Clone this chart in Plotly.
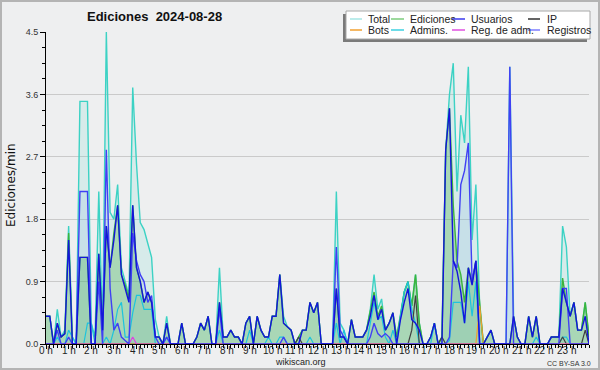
import plotly.graph_objects as go

# ---------------- data (10-minute resolution, hours 0..24) ----------------
slot_hours = [i / 6 for i in range(145)]

total = [
    0.4, 0.4, 0.0, 0.5, 0.1, 0.2,
    1.7, 0.1, 0.0, 3.5, 3.5, 3.5,
    0.3, 0.1, 2.2, 0.2, 4.5, 1.9,
    1.8, 2.3, 1.1, 0.9, 0.7, 3.7,
    2.6, 1.75, 1.65, 1.45, 1.25, 0.35,
    0.1, 0.0, 0.4, 0.0, 0.0, 0.0,
    0.3, 0.0, 0.0, 0.0, 0.1, 0.3,
    0.2, 0.4, 0.0, 0.0, 1.1, 0.1,
    0.1, 0.2, 0.1, 0.1, 0.0, 0.3,
    0.4, 0.0, 0.4, 0.2, 0.1, 0.1,
    0.4, 0.4, 1.0, 0.4, 0.25, 0.2,
    0.0, 0.1, 0.2, 0.2, 0.6, 0.45,
    0.6, 0.0, 0.0, 0.0, 0.0, 2.2,
    0.3, 0.2, 0.0, 0.35, 0.1, 0.1,
    0.1, 0.2, 0.5, 1.0, 0.5, 0.65,
    0.2, 0.3, 0.45, 0.1, 0.4, 0.75,
    0.9, 0.55, 1.0, 0.3, 0.0, 0.0,
    0.1, 0.3, 0.0, 0.1, 2.8, 3.6,
    4.05, 2.2, 3.3, 2.9, 4.0, 1.5,
    2.3, 0.55, 0.0, 0.1, 0.2, 0.0,
    0.0, 0.0, 0.0, 4.0, 0.4, 0.1,
    0.0, 0.0, 0.4, 0.1, 0.4, 0.0,
    0.0, 0.0, 0.1, 0.1, 0.1, 1.7,
    1.4, 0.4, 0.6, 0.2, 0.2, 0.6,
    0.1,
]

ediciones = [
    0.4, 0.4, 0.0, 0.3, 0.1, 0.15,
    1.6, 0.0, 0.0, 1.25, 1.25, 1.25,
    0.0, 0.0, 1.3, 0.2, 1.7, 1.1,
    1.6, 2.0, 1.0, 0.85, 0.65, 2.0,
    1.1, 0.9, 0.6, 0.75, 0.6, 0.1,
    0.1, 0.0, 0.3, 0.0, 0.0, 0.0,
    0.3, 0.0, 0.0, 0.0, 0.1, 0.3,
    0.2, 0.4, 0.0, 0.0, 0.6, 0.1,
    0.1, 0.2, 0.1, 0.1, 0.0, 0.3,
    0.4, 0.0, 0.4, 0.2, 0.1, 0.1,
    0.4, 0.4, 1.0, 0.3, 0.25, 0.2,
    0.0, 0.1, 0.2, 0.2, 0.6, 0.45,
    0.6, 0.0, 0.0, 0.0, 0.0, 0.8,
    0.1, 0.1, 0.0, 0.35, 0.1, 0.1,
    0.1, 0.2, 0.45, 0.75, 0.4, 0.55,
    0.2, 0.3, 0.45, 0.1, 0.4, 0.75,
    0.9, 0.55, 1.0, 0.3, 0.0, 0.0,
    0.1, 0.3, 0.0, 0.1, 2.8, 3.4,
    2.0, 1.2, 1.0, 0.6, 1.1, 0.9,
    1.2, 0.55, 0.0, 0.1, 0.2, 0.0,
    0.0, 0.0, 0.0, 0.0, 0.4, 0.1,
    0.0, 0.0, 0.4, 0.1, 0.4, 0.0,
    0.0, 0.0, 0.1, 0.1, 0.1, 0.95,
    0.6, 0.4, 0.6, 0.2, 0.2, 0.6,
    0.1,
]

usuarios = [
    0.4, 0.4, 0.0, 0.3, 0.1, 0.15,
    1.5, 0.0, 0.0, 1.25, 1.25, 1.25,
    0.0, 0.0, 1.3, 0.2, 1.7, 1.1,
    1.5, 2.0, 1.0, 0.8, 0.6, 2.0,
    1.1, 0.9, 0.6, 0.75, 0.6, 0.1,
    0.1, 0.0, 0.3, 0.0, 0.0, 0.0,
    0.3, 0.0, 0.0, 0.0, 0.1, 0.3,
    0.2, 0.4, 0.0, 0.0, 0.6, 0.1,
    0.1, 0.2, 0.1, 0.1, 0.0, 0.3,
    0.4, 0.0, 0.4, 0.2, 0.1, 0.1,
    0.4, 0.4, 1.0, 0.3, 0.25, 0.2,
    0.0, 0.0, 0.2, 0.2, 0.6, 0.45,
    0.6, 0.0, 0.0, 0.0, 0.0, 0.8,
    0.1, 0.1, 0.0, 0.35, 0.1, 0.1,
    0.1, 0.2, 0.4, 0.7, 0.35, 0.5,
    0.2, 0.3, 0.45, 0.0, 0.35, 0.6,
    0.8, 0.35, 0.3, 0.2, 0.0, 0.0,
    0.1, 0.3, 0.0, 0.0, 2.8, 3.4,
    1.2, 1.05, 0.75, 0.3, 1.1, 0.85,
    1.2, 0.0, 0.0, 0.1, 0.2, 0.0,
    0.0, 0.0, 0.0, 0.0, 0.4, 0.1,
    0.0, 0.0, 0.4, 0.1, 0.4, 0.0,
    0.0, 0.0, 0.1, 0.1, 0.1, 0.8,
    0.6, 0.4, 0.6, 0.2, 0.2, 0.4,
    0.0,
]

ip = [0.0] * 145
ip_points = {67: 0.1, 97: 0.2, 98: 0.7, 105: 0.1, 137: 0.1, 143: 0.2}

bots = [0.0] * 145
bots_points = {115: 0.55}

reg_adm = [0.0] * 145
reg_adm_points = {23: 0.1}

admins = [
    0.0, 0.0, 0.0, 0.1, 0.0, 0.0,
    0.2, 0.1, 0.0, 0.0, 0.0, 0.3,
    0.3, 0.0, 0.0, 0.0, 0.1, 0.0,
    0.2, 0.5, 0.6, 0.1, 0.1, 0.45,
    0.7, 0.7, 0.5, 0.5, 0.5, 0.0,
    0.0, 0.0, 0.1, 0.0, 0.0, 0.0,
    0.0, 0.0, 0.0, 0.0, 0.0, 0.0,
    0.0, 0.0, 0.0, 0.0, 0.2, 0.0,
    0.0, 0.0, 0.0, 0.0, 0.0, 0.0,
    0.2, 0.0, 0.0, 0.0, 0.0, 0.1,
    0.0, 0.0, 0.1, 0.1, 0.0, 0.0,
    0.0, 0.0, 0.0, 0.0, 0.1, 0.0,
    0.0, 0.0, 0.0, 0.0, 0.0, 0.3,
    0.0, 0.2, 0.0, 0.0, 0.0, 0.0,
    0.0, 0.0, 0.3, 0.6, 0.35, 0.4,
    0.1, 0.0, 0.2, 0.0, 0.4, 0.75,
    0.9, 0.5, 0.3, 0.0, 0.0, 0.0,
    0.0, 0.3, 0.0, 0.0, 0.0, 0.05,
    0.6, 0.6, 0.6, 0.3, 0.9, 0.4,
    0.9, 0.0, 0.0, 0.0, 0.0, 0.0,
    0.0, 0.0, 0.0, 0.0, 0.0, 0.0,
    0.0, 0.0, 0.0, 0.0, 0.1, 0.0,
    0.0, 0.0, 0.0, 0.0, 0.0, 0.1,
    0.1, 0.0, 0.0, 0.0, 0.0, 0.0,
    0.0,
]

registros = [
    0.0, 0.0, 0.0, 0.2, 0.0, 0.0,
    0.1, 0.0, 0.0, 2.2, 2.2, 2.2,
    0.0, 0.0, 0.9, 0.0, 2.8, 0.8,
    0.2, 0.3, 0.1, 0.05, 0.0, 1.6,
    1.2, 1.0, 0.9, 0.6, 0.7, 0.1,
    0.0, 0.0, 0.1, 0.0, 0.0, 0.0,
    0.0, 0.0, 0.0, 0.0, 0.0, 0.0,
    0.0, 0.0, 0.0, 0.0, 0.5, 0.0,
    0.0, 0.0, 0.0, 0.0, 0.0, 0.0,
    0.0, 0.0, 0.0, 0.0, 0.0, 0.0,
    0.0, 0.0, 0.0, 0.1, 0.0, 0.0,
    0.0, 0.0, 0.0, 0.0, 0.0, 0.0,
    0.0, 0.0, 0.0, 0.0, 0.0, 1.4,
    0.2, 0.1, 0.0, 0.0, 0.0, 0.0,
    0.0, 0.0, 0.1, 0.3, 0.15, 0.1,
    0.15, 0.1, 0.0, 0.0, 0.0, 0.0,
    0.0, 0.0, 0.0, 0.0, 0.0, 0.0,
    0.0, 0.0, 0.0, 0.0, 0.0, 0.1,
    1.2, 1.1, 2.3, 2.5, 2.9, 0.9,
    1.2, 0.0, 0.0, 0.0, 0.0, 0.0,
    0.0, 0.0, 0.0, 4.0, 0.0, 0.0,
    0.0, 0.0, 0.0, 0.0, 0.0, 0.0,
    0.0, 0.0, 0.0, 0.0, 0.0, 0.8,
    0.8, 0.0, 0.0, 0.0, 0.0, 0.0,
    0.0,
]

for k, v in ip_points.items():
    ip[k] = v
for k, v in bots_points.items():
    bots[k] = v
for k, v in reg_adm_points.items():
    reg_adm[k] = v

hour_ticks = list(range(24))
hour_labels = ["0 h", "1 h", "2 h", "3 h", "4 h", "5 h", "6 h", "7 h", "8 h", "9 h",
               "10 h", "11 h", "12 h", "13 h", "14 h", "15 h", "16 h", "17 h",
               "18 h", "19 h", "20 h", "21 h", "22 h", "23 h"]
y_ticks = [0.0, 0.9, 1.8, 2.7, 3.6, 4.5]
y_labels = ["0.0", "0.9", "1.8", "2.7", "3.6", "4.5"]

legend_names = ["Total", "Ediciones", "Usuarios", "IP",
                "Bots", "Admins.", "Reg. de adm.", "Registros"]
legend_colors = ["#a6e6e4", "#7ccc7c", "#3a3aee", "#303030",
                 "#f2a030", "#3cd0e0", "#e050e0", "#7c7cff"]

# ---------------- figure ----------------
W, H = 600, 370
ML, MR, MT, MB = 46, 11, 32, 26
PW, PH = W - ML - MR, H - MT - MB


def X(px):
    return (px - ML) / PW


def Y(py):
    return (H - MB - py) / PH


FONT = "Liberation Sans, Arial, sans-serif"
BG = "#eeeff0"

fig = go.Figure()

fig.add_trace(go.Scatter(x=slot_hours, y=total, mode="lines", fill="tozeroy",
                         fillcolor="rgba(80,210,195,0.14)",
                         line=dict(color="#3cd2c4", width=1.4), hoverinfo="skip"))
fig.add_trace(go.Scatter(x=slot_hours, y=registros, mode="none", fill="tozeroy",
                         fillcolor="rgba(120,165,225,0.16)", hoverinfo="skip"))
fig.add_trace(go.Scatter(x=slot_hours, y=ediciones, mode="lines", fill="tozeroy",
                         fillcolor="rgba(70,175,70,0.32)",
                         line=dict(color="#3cb43c", width=1.4), hoverinfo="skip"))
fig.add_trace(go.Scatter(x=slot_hours, y=admins, mode="lines",
                         line=dict(color="#1ec4dc", width=1.2), hoverinfo="skip"))
fig.add_trace(go.Scatter(x=slot_hours, y=ip, mode="lines",
                         line=dict(color="#404040", width=1.2), hoverinfo="skip"))
fig.add_trace(go.Scatter(x=slot_hours, y=bots, mode="lines",
                         line=dict(color="#f0a030", width=1.2), hoverinfo="skip"))
fig.add_trace(go.Scatter(x=slot_hours, y=reg_adm, mode="lines",
                         line=dict(color="#e040e0", width=1.2), hoverinfo="skip"))
fig.add_trace(go.Scatter(x=slot_hours, y=registros, mode="lines",
                         line=dict(color="#4040f4", width=1.4), hoverinfo="skip"))
fig.add_trace(go.Scatter(x=slot_hours, y=usuarios, mode="lines",
                         line=dict(color="#1414dc", width=1.4), hoverinfo="skip"))

shapes = []
annotations = []

# outer frame
shapes.append(dict(type="rect", xref="paper", yref="paper",
                   x0=X(1), x1=X(599), y0=Y(1), y1=Y(369),
                   line=dict(color="#b4b4b4", width=2), fillcolor="rgba(0,0,0,0)"))

# legend box with shadow
shapes.append(dict(type="rect", xref="paper", yref="paper",
                   x0=X(343), x1=X(587), y0=Y(14), y1=Y(42),
                   line=dict(width=0), fillcolor="#7a7a7a"))
shapes.append(dict(type="rect", xref="paper", yref="paper",
                   x0=X(346), x1=X(590), y0=Y(11), y1=Y(39),
                   line=dict(color="#a8a8a8", width=1), fillcolor="#ffffff"))

col_sample = [(350, 362), (391, 404), (452, 465), (528, 540)]
col_text = [366, 408, 469, 545]
row_y = [19, 30]
for k, (name, col) in enumerate(zip(legend_names, legend_colors)):
    r, c = divmod(k, 4)
    x0, x1 = col_sample[c]
    shapes.append(dict(type="line", xref="paper", yref="paper",
                       x0=X(x0), x1=X(x1), y0=Y(row_y[r]), y1=Y(row_y[r]),
                       line=dict(color=col, width=1.5)))
    annotations.append(dict(xref="paper", yref="paper", x=X(col_text[c]), y=Y(row_y[r]),
                            text=name, showarrow=False, xanchor="left", yanchor="middle",
                            font=dict(family=FONT, size=10.5, color="#222222")))

# hour tick labels (placed on the x axis scale, just under the ticks)
for hv, lab in zip(hour_ticks, hour_labels):
    annotations.append(dict(xref="x", yref="paper", x=hv, y=Y(350),
                            text=lab, showarrow=False, xanchor="center", yanchor="middle",
                            font=dict(family=FONT, size=10, color="#222222")))

# title
annotations.append(dict(xref="paper", yref="paper", x=X(154), y=Y(17),
                        text="<b>Ediciones  2024-08-28</b>", showarrow=False,
                        xanchor="center", yanchor="middle",
                        font=dict(family=FONT, size=13, color="#111111")))
# y axis title
annotations.append(dict(xref="paper", yref="paper", x=X(11), y=Y(185),
                        text="Ediciones/min", showarrow=False, textangle=-90,
                        xanchor="center", yanchor="middle",
                        font=dict(family="DejaVu Sans, sans-serif", size=12, color="#111111")))
# x axis title
annotations.append(dict(xref="paper", yref="paper", x=X(300), y=Y(362),
                        text="wikiscan.org", showarrow=False,
                        xanchor="center", yanchor="middle",
                        font=dict(family=FONT, size=9, color="#222222")))
# licence
annotations.append(dict(xref="paper", yref="paper", x=X(569), y=Y(363),
                        text="CC BY-SA 3.0", showarrow=False,
                        xanchor="center", yanchor="middle",
                        font=dict(family=FONT, size=7, color="#333333")))

fig.update_layout(
    width=W, height=H,
    margin=dict(l=ML, r=MR, t=MT, b=MB, pad=0),
    paper_bgcolor=BG, plot_bgcolor=BG,
    showlegend=False,
    shapes=shapes, annotations=annotations,
    xaxis=dict(range=[0, 24], tickmode="array", tickvals=hour_ticks,
               showticklabels=False,
               ticks="outside", ticklen=4, tickwidth=1, tickcolor="#000000",
               showline=True, linecolor="#000000", linewidth=1,
               showgrid=False, zeroline=False,
               minor=dict(tickmode="linear", tick0=0, dtick=1 / 6, ticks="outside",
                          ticklen=3, tickcolor="#000000", showgrid=False),
               fixedrange=True),
    yaxis=dict(range=[0, 4.5], tickmode="array", tickvals=y_ticks, ticktext=y_labels,
               ticks="outside", ticklen=5, tickwidth=1, tickcolor="#000000",
               showline=True, linecolor="#000000", linewidth=1,
               showgrid=True, gridcolor="#cacaca", gridwidth=1, zeroline=False,
               tickfont=dict(family=FONT, size=9, color="#333333"),
               minor=dict(tickmode="linear", tick0=0, dtick=0.225, ticks="outside",
                          ticklen=3, tickcolor="#000000", showgrid=False),
               fixedrange=True),
)

fig.write_html("out.html")
